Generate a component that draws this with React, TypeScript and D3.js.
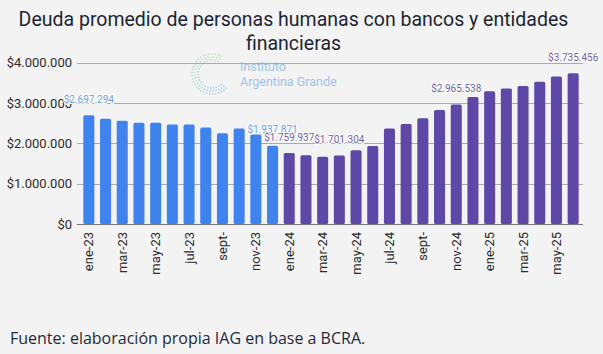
import React, { useEffect, useRef } from "react";
import * as d3 from "d3";

// monthly averages, ene-23 .. jun-25
const months = [
  "ene-23", "feb-23", "mar-23", "abr-23", "may-23", "jun-23", "jul-23", "ago-23", "sept-", "oct-23", "nov-23", "dic-23",
  "ene-24", "feb-24", "mar-24", "abr-24", "may-24", "jun-24", "jul-24", "ago-24", "sept-", "oct-24", "nov-24", "dic-24",
  "ene-25", "feb-25", "mar-25", "abr-25", "may-25", "jun-25"
];
const deuda = [
  2697294, 2610000, 2560000, 2510000, 2510000, 2470000, 2470000, 2390000, 2250000, 2370000, 2220000, 1937871,
  1759937, 1705000, 1670000, 1701304, 1830000, 1935000, 2370000, 2480000, 2620000, 2830000, 2965538, 3150000,
  3290000, 3360000, 3420000, 3530000, 3660000, 3735456
];
// which bars carry a value label
const labelIdx = [0, 11, 12, 15, 22, 29];
const yTicks = [0, 1000000, 2000000, 3000000, 4000000];

const W = 603;
const H = 354;
const BLUE = "#3f83ee";
const PURPLE = "#5d48a8";

const fmt = (v: number) => "$" + d3.format(",")(v).replace(/,/g, ".");

const App: React.FC = () => {
  const svgRef = useRef<SVGSVGElement>(null);

  useEffect(() => {
    const svg = d3.select(svgRef.current);
    svg.selectAll("*").remove();

    svg.append("rect").attr("width", W).attr("height", H).attr("fill", "#f3f3f3");

    const x = d3.scaleBand<number>()
      .domain(d3.range(months.length))
      .range([80.5, 581.5])
      .paddingInner(0.34)
      .paddingOuter(0.17);

    const y = d3.scaleLinear().domain([0, 4000000]).range([224, 62.7]);

    // watermark logo
    const logo = svg.append("g").attr("transform", "translate(212,74)");
    const ringColor = d3.scaleLinear<string>().domain([0, 1]).range(["#a8d8a0", "#6fb4e0"]);
    [14, 17, 20].forEach((r, k) => {
      const n = 22 + k * 4;
      d3.range(n).forEach(i => {
        const a = Math.PI * 0.35 + (i / n) * Math.PI * 1.45;
        logo.append("circle")
          .attr("cx", Math.cos(a) * r)
          .attr("cy", -Math.sin(a) * r)
          .attr("r", 0.9)
          .attr("fill", ringColor(i / n))
          .attr("opacity", 0.55);
      });
    });
    svg.append("text").attr("x", 240).attr("y", 71)
      .style("font-family", "Roboto").style("font-size", "12.5px").attr("fill", "#9cc3e6")
      .text("Instituto");
    svg.append("text").attr("x", 240).attr("y", 85.5)
      .style("font-family", "Roboto").style("font-size", "12.5px").attr("fill", "#9cc3e6")
      .text("Argentina Grande");

    // grid + y axis
    const grid = svg.append("g");
    grid.selectAll("line")
      .data(yTicks)
      .join("line")
      .attr("x1", 77)
      .attr("x2", 583)
      .attr("y1", d => Math.round(y(d)) + 0.5)
      .attr("y2", d => Math.round(y(d)) + 0.5)
      .attr("stroke", d => d === 0 ? "#777" : "#aaa")
      .attr("stroke-width", 1);

    svg.append("g").selectAll("text")
      .data(yTicks)
      .join("text")
      .attr("x", 72)
      .attr("y", d => y(d))
      .attr("dy", "0.35em")
      .attr("text-anchor", "end")
      .style("font-family", "Roboto")
      .style("font-size", "13px")
      .attr("fill", "#2b2b2b")
      .text(d => fmt(d));

    // bars
    svg.append("g").selectAll("rect")
      .data(deuda)
      .join("rect")
      .attr("x", (d, i) => x(i)!)
      .attr("width", x.bandwidth())
      .attr("y", d => y(d))
      .attr("height", d => y(0) - y(d))
      .attr("rx", 1.5)
      .attr("fill", (d, i) => i < 12 ? BLUE : PURPLE);

    // value labels
    svg.append("g").selectAll("text")
      .data(labelIdx)
      .join("text")
      .attr("x", i => x(i)! + x.bandwidth() / 2)
      .attr("y", i => y(deuda[i]) - 12.5)
      .attr("text-anchor", "middle")
      .style("font-family", "Roboto")
      .style("font-size", "10px")
      .attr("fill", i => i < 12 ? "#6c9be6" : "#6d62a3")
      .attr("stroke", "#ffffff")
      .attr("stroke-width", 2)
      .attr("paint-order", "stroke")
      .text(i => fmt(deuda[i]));

    // x labels every second month
    svg.append("g").selectAll("text")
      .data(d3.range(0, months.length, 2))
      .join("text")
      .attr("transform", i => `translate(${x(i)! + x.bandwidth() / 2},232) rotate(-90)`)
      .attr("dy", "0.35em")
      .attr("text-anchor", "end")
      .style("font-family", "Roboto")
      .style("font-size", "13px")
      .attr("fill", "#2b2b2b")
      .text(i => months[i]);

    // title
    const title = svg.append("text")
      .attr("text-anchor", "middle")
      .style("font-family", "Roboto")
      .style("font-size", "19.5px")
      .attr("fill", "#1c2536");
    title.append("tspan").attr("x", 293.5).attr("y", 26).text("Deuda promedio de personas humanas con bancos y entidades");
    title.append("tspan").attr("x", 293.5).attr("y", 50).text("financieras");

    svg.append("text")
      .attr("x", 10)
      .attr("y", 343.5)
      .style("font-family", "Open Sans")
      .style("font-size", "16px")
      .attr("fill", "#1e2a3a")
      .text("Fuente: elaboración propia IAG en base a BCRA.");
  }, []);

  return (
    <svg
      ref={svgRef}
      width={W}
      height={H}
      style={{ position: "fixed", left: 0, top: 0, display: "block" }}
    />
  );
};

export default App;
